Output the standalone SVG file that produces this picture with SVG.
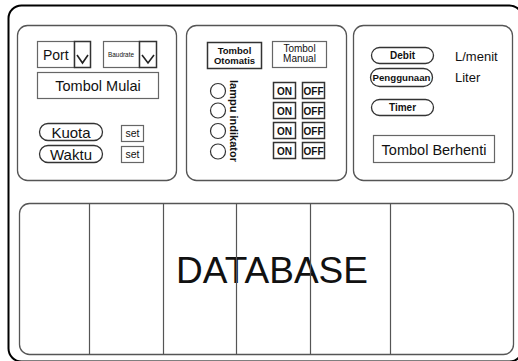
<svg xmlns="http://www.w3.org/2000/svg" width="518" height="361" viewBox="0 0 518 361">
<style>
text{font-family:"Liberation Sans",Arial,sans-serif;fill:#111}
.panel{fill:#fff;stroke:#555;stroke-width:1.3}
.box{fill:#fff;stroke:#666;stroke-width:1.2}
.dark{fill:#fff;stroke:#333;stroke-width:1.5}
.pill{fill:#fff;stroke:#333;stroke-width:1.3}
.chev{fill:none;stroke:#222;stroke-width:1.6}
.div{stroke:#555;stroke-width:1.2}
.lamp{fill:#fff;stroke:#333;stroke-width:1.2}
</style>
<rect width="518" height="361" fill="#fff"/>
<rect id="frame" x="8.5" y="5.5" width="514" height="356" rx="13" fill="none" stroke="#000" stroke-width="2"/>

<g id="panel-serial">
<rect class="panel" x="17.5" y="25.5" width="159" height="155" rx="10"/>
<rect class="box" x="37.5" y="41.5" width="37" height="26"/>
<text x="43" y="60" font-size="14">Port</text>
<rect class="dark" x="74.5" y="41.5" width="16" height="26"/>
<polyline class="chev" points="77,55 82.5,63 88,55"/>
<rect class="box" x="103.5" y="41.5" width="36" height="26"/>
<text x="121" y="57" font-size="8" text-anchor="middle" textLength="26" lengthAdjust="spacingAndGlyphs">Baudrate</text>
<rect class="dark" x="139.5" y="41.5" width="17" height="26"/>
<polyline class="chev" points="142,55 148,63 154,55"/>
<rect class="box" x="37.5" y="72.5" width="121" height="26"/>
<text x="98" y="91" font-size="14.5" text-anchor="middle">Tombol Mulai</text>
<rect class="pill" x="39.5" y="123.5" width="63" height="17" rx="8.5"/>
<text x="71" y="137.5" font-size="15" text-anchor="middle">Kuota</text>
<rect class="pill" x="39.5" y="145.5" width="63" height="17" rx="8.5"/>
<text x="71" y="159.5" font-size="15" text-anchor="middle">Waktu</text>
<rect class="box" x="121.5" y="125.5" width="22" height="16"/>
<text x="132.5" y="137" font-size="10.5" text-anchor="middle">set</text>
<rect class="box" x="121.5" y="146.5" width="22" height="16"/>
<text x="132.5" y="158" font-size="10.5" text-anchor="middle">set</text>
</g>

<g id="panel-control">
<rect class="panel" x="186.5" y="25.5" width="160" height="155" rx="10"/>
<rect class="dark" x="207.5" y="42.5" width="54" height="26"/>
<text x="234.5" y="53.5" font-size="9.5" text-anchor="middle" font-weight="bold">Tombol</text>
<text x="234.5" y="63.5" font-size="9.5" text-anchor="middle" font-weight="bold">Otomatis</text>
<rect class="box" x="272.5" y="41.5" width="54" height="26"/>
<text x="299.5" y="51.5" font-size="10" text-anchor="middle">Tombol</text>
<text x="299.5" y="61.5" font-size="10" text-anchor="middle">Manual</text>
<circle class="lamp" cx="218" cy="91" r="7.5"/>
<circle class="lamp" cx="218" cy="110.5" r="7.5"/>
<circle class="lamp" cx="218" cy="131" r="7.5"/>
<circle class="lamp" cx="218" cy="151.5" r="7.5"/>
<text transform="translate(230,80) rotate(90)" font-size="11.5" font-weight="bold" textLength="82" lengthAdjust="spacingAndGlyphs">lampu indikator</text>
<g font-size="10" font-weight="bold" text-anchor="middle">
<rect class="dark" x="273.5" y="82.5" width="22" height="16"/>
<text x="284.5" y="94.5">ON</text>
<rect class="dark" x="302.5" y="82.5" width="22" height="16"/>
<text x="313.5" y="94.5">OFF</text>
<rect class="dark" x="273.5" y="102.5" width="22" height="16"/>
<text x="284.5" y="114.5">ON</text>
<rect class="dark" x="302.5" y="102.5" width="22" height="16"/>
<text x="313.5" y="114.5">OFF</text>
<rect class="dark" x="273.5" y="122.5" width="22" height="16"/>
<text x="284.5" y="134.5">ON</text>
<rect class="dark" x="302.5" y="122.5" width="22" height="16"/>
<text x="313.5" y="134.5">OFF</text>
<rect class="dark" x="273.5" y="142.5" width="22" height="16"/>
<text x="284.5" y="154.5">ON</text>
<rect class="dark" x="302.5" y="142.5" width="22" height="16"/>
<text x="313.5" y="154.5">OFF</text>
</g>
</g>

<g id="panel-status">
<rect class="panel" x="353.5" y="25.5" width="159" height="155" rx="10"/>
<rect class="pill" x="371.5" y="47.5" width="62" height="16" rx="8"/>
<text x="402.5" y="59" font-size="10" font-weight="bold" text-anchor="middle">Debit</text>
<rect class="pill" x="370.5" y="68.5" width="62" height="18" rx="9"/>
<text x="401.5" y="81" font-size="9.5" font-weight="bold" text-anchor="middle" textLength="58" lengthAdjust="spacingAndGlyphs">Penggunaan</text>
<rect class="pill" x="371.5" y="99.5" width="62" height="16" rx="8"/>
<text x="402.5" y="111" font-size="10" font-weight="bold" text-anchor="middle">Timer</text>
<text x="455" y="61" font-size="13">L/menit</text>
<text x="455" y="82" font-size="13">Liter</text>
<rect class="box" x="373.5" y="135.5" width="121" height="27"/>
<text x="434" y="154.5" font-size="14.5" text-anchor="middle">Tombol Berhenti</text>
</g>

<g id="database">
<rect class="panel" x="19.5" y="203.5" width="494" height="151" rx="10"/>
<text x="272" y="283" font-size="37" text-anchor="middle">DATABASE</text>
</g>
<g id="connectors">
<line class="div" x1="89.5" y1="203.5" x2="89.5" y2="354.5"/>
<line class="div" x1="163.5" y1="203.5" x2="163.5" y2="354.5"/>
<line class="div" x1="236.5" y1="203.5" x2="236.5" y2="354.5"/>
<line class="div" x1="310.5" y1="203.5" x2="310.5" y2="354.5"/>
<line class="div" x1="390.5" y1="203.5" x2="390.5" y2="354.5"/>
</g>
</svg>
